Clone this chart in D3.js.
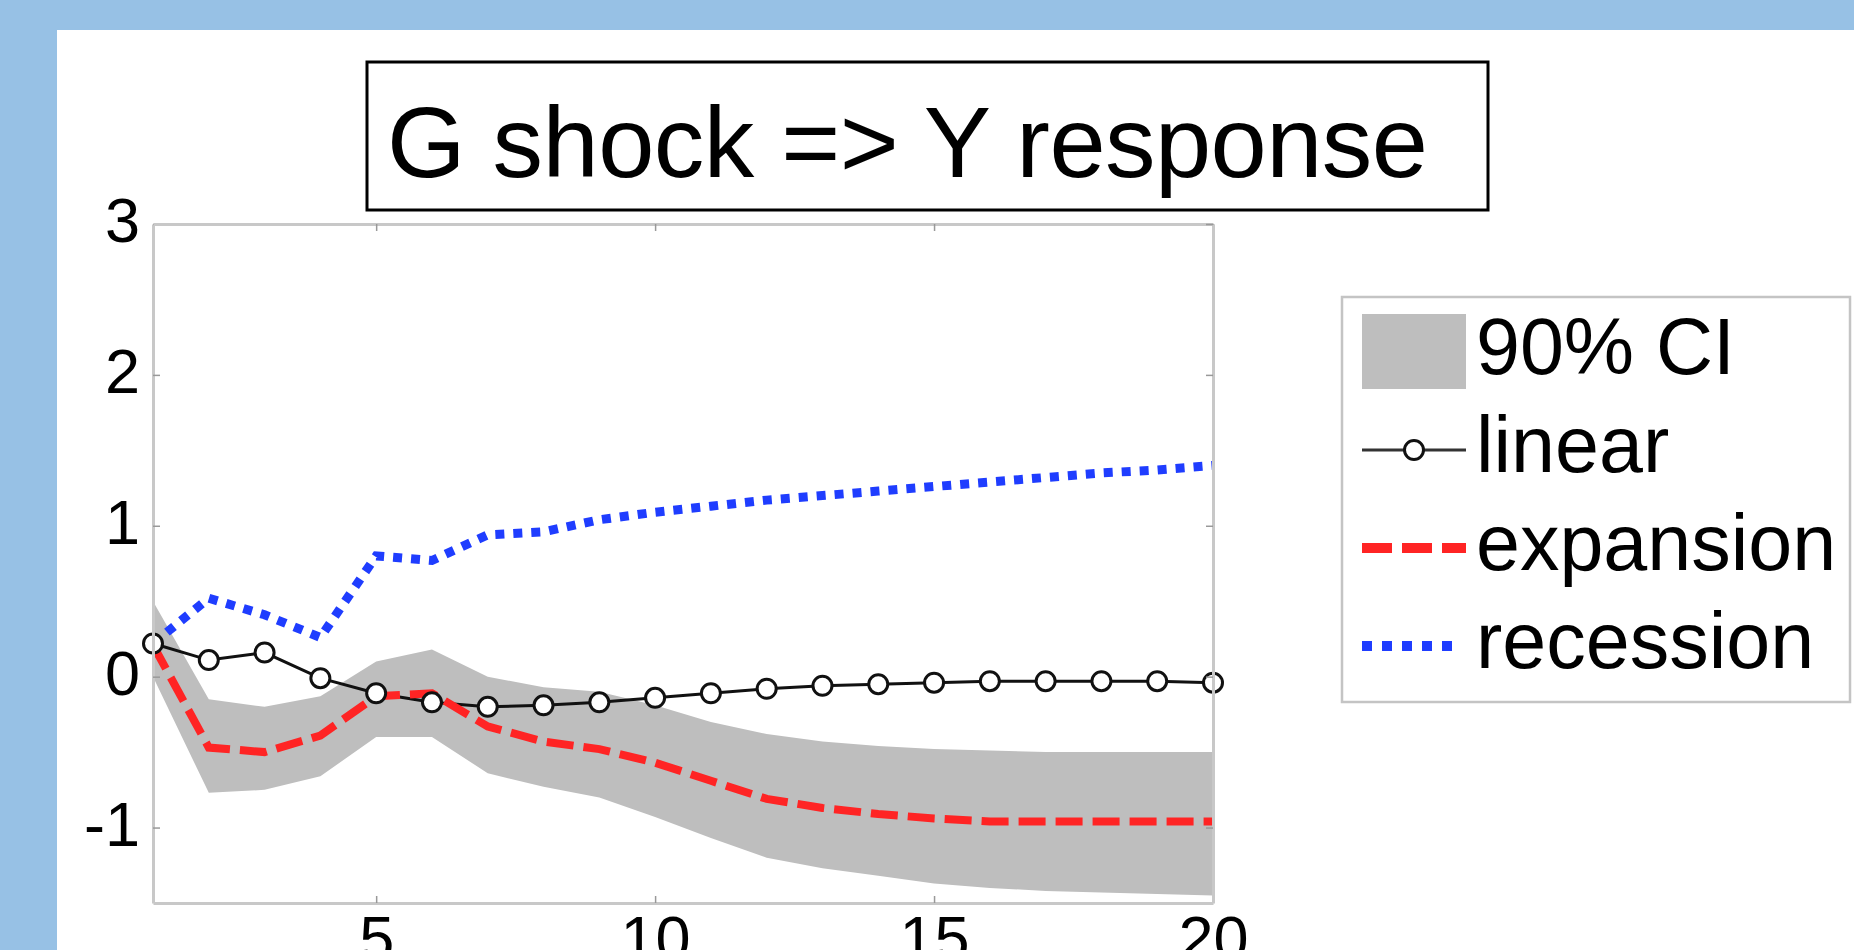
<!DOCTYPE html>
<html lang="en">
<head>
    <meta charset="UTF-8">
    <title>G shock => Y response</title>
    <script src="https://cdn.jsdelivr.net/npm/d3@7/dist/d3.min.js"></script>
    <style>
        html, body { margin: 0; padding: 0; background: #97c1e5; overflow: hidden; }
        svg { display: block; }
        text { font-family: "Liberation Sans", Arial, Helvetica, sans-serif; fill: #000; }
    </style>
</head>
<body>
<svg id="chart" width="1854" height="950"></svg>
<script>
    // horizon (quarters)
    var horizon = d3.range(1, 21);

    // responses
    var linear    = [0.22, 0.11, 0.16, -0.01, -0.11, -0.17, -0.20, -0.19, -0.17, -0.14, -0.11, -0.08, -0.06, -0.05, -0.04, -0.03, -0.03, -0.03, -0.03, -0.04];
    var expansion = [0.21, -0.47, -0.50, -0.39, -0.13, -0.11, -0.33, -0.43, -0.48, -0.57, -0.69, -0.81, -0.87, -0.91, -0.94, -0.96, -0.96, -0.96, -0.96, -0.96];
    var recession = [0.22, 0.52, 0.41, 0.26, 0.80, 0.77, 0.94, 0.96, 1.04, 1.09, 1.13, 1.17, 1.20, 1.23, 1.26, 1.29, 1.32, 1.35, 1.37, 1.40];

    // 90% confidence band
    var ciUpper = [0.50, -0.15, -0.20, -0.13, 0.10, 0.18, 0.00, -0.07, -0.10, -0.19, -0.30, -0.38, -0.43, -0.46, -0.48, -0.49, -0.50, -0.50, -0.50, -0.50];
    var ciLower = [0.00, -0.77, -0.75, -0.66, -0.40, -0.40, -0.64, -0.73, -0.80, -0.93, -1.07, -1.20, -1.27, -1.32, -1.37, -1.40, -1.42, -1.43, -1.44, -1.45];

    var xTicks = [5, 10, 15, 20];
    var yTicks = [-1, 0, 1, 2, 3];
    var legendLabels = ["90% CI", "linear", "expansion", "recession"];

    var svg = d3.select("#chart");

    // white panel on the blue slide
    svg.append("rect").attr("x", 57).attr("y", 30).attr("width", 1797).attr("height", 920).attr("fill", "#fff");

    // title box
    svg.append("rect").attr("x", 367).attr("y", 62).attr("width", 1121).attr("height", 148)
        .attr("fill", "#fff").attr("stroke", "#000").attr("stroke-width", 3);
    svg.append("text").attr("x", 387).attr("y", 177).attr("font-size", 101)
        .attr("textLength", 1041).text("G shock => Y response");

    var plotLeft = 153, plotRight = 1213, plotTop = 224, plotBottom = 903;

    var x = d3.scaleLinear().domain([1, 20]).range([plotLeft, plotRight]);
    var y = d3.scaleLinear().domain([-1.5, 3]).range([plotBottom, plotTop]);

    // band
    var area = d3.area()
        .x(function(d, i) { return x(horizon[i]); })
        .y0(function(d, i) { return y(ciLower[i]); })
        .y1(function(d, i) { return y(ciUpper[i]); });
    svg.append("path").datum(ciUpper).attr("d", area).attr("fill", "#bebebe");

    var line = function(vals) {
        return d3.line().x(function(d, i) { return x(horizon[i]); }).y(function(d) { return y(d); })(vals);
    };

    svg.append("path").attr("d", line(linear)).attr("fill", "none")
        .attr("stroke", "#111").attr("stroke-width", 3);

    svg.append("path").attr("d", line(expansion)).attr("fill", "none")
        .attr("stroke", "#ff2424").attr("stroke-width", 8).attr("stroke-dasharray", "27,10");

    svg.append("path").attr("d", line(recession)).attr("fill", "none")
        .attr("stroke", "#1f3dff").attr("stroke-width", 9).attr("stroke-dasharray", "9,9");

    svg.selectAll("circle.pt").data(linear).enter().append("circle")
        .attr("class", "pt")
        .attr("cx", function(d, i) { return x(horizon[i]); })
        .attr("cy", function(d) { return y(d); })
        .attr("r", 9.5)
        .attr("fill", "#fff").attr("stroke", "#111").attr("stroke-width", 3);

    // axes (matlab style box, ticks inside)
    function styleAxis(g) {
        g.select(".domain").attr("stroke", "#c8c8c8").attr("stroke-width", 3);
        g.selectAll(".tick line").attr("stroke", "#999").attr("stroke-width", 1.5);
        g.selectAll(".tick text").attr("font-size", 63).attr("font-family", "Liberation Sans, Arial, sans-serif").attr("fill", "#000");
    }
    var plain = function(d) { return String(d); };

    svg.append("g").attr("transform", "translate(0," + plotBottom + ")")
        .call(d3.axisBottom(x).tickValues(xTicks).tickFormat(plain).tickSizeInner(-7).tickSizeOuter(0).tickPadding(12))
        .call(styleAxis);

    svg.append("g").attr("transform", "translate(" + plotLeft + ",0)")
        .call(d3.axisLeft(y).tickValues(yTicks).tickFormat(plain).tickSizeInner(-7).tickSizeOuter(0).tickPadding(13))
        .call(styleAxis)
        .selectAll(".tick text").attr("dy", "0.28em");

    svg.append("g").attr("transform", "translate(0," + plotTop + ")")
        .call(d3.axisTop(x).tickValues(xTicks).tickSizeInner(-7).tickSizeOuter(0).tickFormat(""))
        .call(styleAxis);

    svg.append("g").attr("transform", "translate(" + plotRight + ",0)")
        .call(d3.axisRight(y).tickValues(yTicks).tickSizeInner(-7).tickSizeOuter(0).tickFormat(""))
        .call(styleAxis);

    // legend
    var lg = svg.append("g");
    lg.append("rect").attr("x", 1342).attr("y", 297).attr("width", 508).attr("height", 405)
        .attr("fill", "#fff").attr("stroke", "#c4c4c4").attr("stroke-width", 2.5);

    var rowY = d3.scalePoint().domain(legendLabels).range([352, 646]);
    var keyX0 = 1362, keyX1 = 1466;

    lg.append("rect").attr("x", keyX0).attr("y", rowY("90% CI") - 38).attr("width", keyX1 - keyX0).attr("height", 75)
        .attr("fill", "#bebebe");

    lg.append("line").attr("x1", keyX0).attr("x2", keyX1).attr("y1", rowY("linear")).attr("y2", rowY("linear"))
        .attr("stroke", "#333").attr("stroke-width", 3);
    lg.append("circle").attr("cx", (keyX0 + keyX1) / 2).attr("cy", rowY("linear")).attr("r", 9.5)
        .attr("fill", "#fff").attr("stroke", "#111").attr("stroke-width", 3);

    lg.append("line").attr("x1", keyX0).attr("x2", keyX1).attr("y1", rowY("expansion")).attr("y2", rowY("expansion"))
        .attr("stroke", "#ff2424").attr("stroke-width", 10).attr("stroke-dasharray", "30,10");

    lg.append("line").attr("x1", keyX0).attr("x2", keyX1 - 10).attr("y1", rowY("recession")).attr("y2", rowY("recession"))
        .attr("stroke", "#1f3dff").attr("stroke-width", 10).attr("stroke-dasharray", "10,10");

    lg.selectAll("text.lab").data(legendLabels).enter().append("text")
        .attr("class", "lab")
        .attr("x", 1476)
        .attr("y", function(d) { return rowY(d) + 22; })
        .attr("font-size", 79)
        .text(function(d) { return d; });
</script>
</body>
</html>
